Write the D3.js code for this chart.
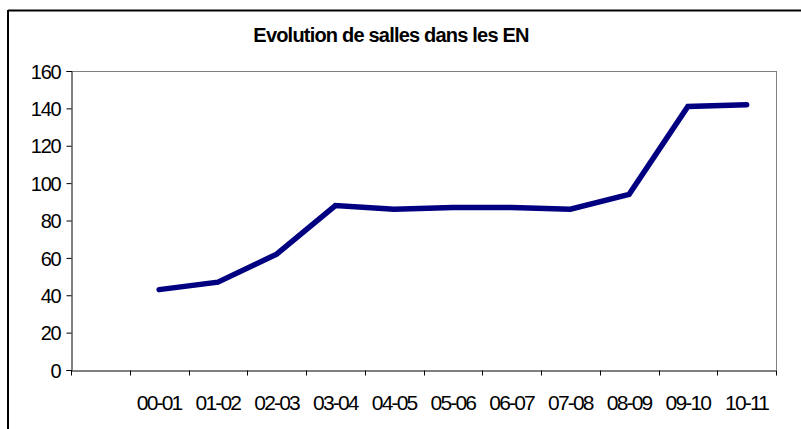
<!DOCTYPE html>
<html>
<head>
<meta charset="utf-8">
<script src="https://cdn.jsdelivr.net/npm/d3@7"></script>
<style>
  html, body { margin: 0; padding: 0; background: #fff; }
  svg { display: block; }
  text { font-family: "Liberation Sans", Arial, sans-serif; fill: #000; }
</style>
</head>
<body>
<svg id="chart" width="801" height="429"></svg>
<script>
const title = "Evolution de salles dans les EN";
const categories = ["", "00-01", "01-02", "02-03", "03-04", "04-05", "05-06", "06-07", "07-08", "08-09", "09-10", "10-11"];
const values = [null, 43, 47, 62, 88, 86, 87, 87, 86, 94, 141, 142];
const yTicks = [0, 20, 40, 60, 80, 100, 120, 140, 160];

const svg = d3.select("#chart");
const mLeft = 71, mRight = 776, mTop = 71, mBottom = 370;

// outer frame (top and left edges visible)
svg.append("line").attr("x1", 8).attr("x2", 801).attr("y1", 10.5).attr("y2", 10.5)
  .attr("stroke", "#000").attr("stroke-width", 2);
svg.append("line").attr("x1", 8).attr("x2", 8).attr("y1", 10).attr("y2", 429)
  .attr("stroke", "#000").attr("stroke-width", 2);

svg.append("text").attr("x", 391).attr("y", 41.5).attr("text-anchor", "middle")
  .style("font-size", "20px").style("font-weight", "bold").style("letter-spacing", "-0.8px")
  .text(title);

const x = d3.scaleBand().domain(categories.map((c, i) => i)).range([mLeft, mRight]);
const y = d3.scaleLinear().domain([0, 160]).range([mBottom, mTop]);

// plot border (gray top & right)
svg.append("line").attr("x1", mLeft).attr("x2", mRight).attr("y1", mTop + 0.5).attr("y2", mTop + 0.5)
  .attr("stroke", "#808080").attr("stroke-width", 1);
svg.append("line").attr("x1", mRight + 0.5).attr("x2", mRight + 0.5).attr("y1", mTop).attr("y2", mBottom)
  .attr("stroke", "#808080").attr("stroke-width", 1);

// y axis
const yAxis = d3.axisLeft(y).tickValues(yTicks).tickSize(5).tickPadding(6);
const gy = svg.append("g").attr("transform", `translate(${mLeft + 0.5},0)`).call(yAxis);
gy.select(".domain").attr("stroke", "#000");
gy.selectAll(".tick line").attr("stroke", "#000");
gy.selectAll("text").style("font-size", "20px").style("letter-spacing", "-1.2px")
  .attr("font-family", null).attr("dy", "0.36em");

// x axis
const xAxis = d3.axisBottom(x).tickFormat(i => categories[i]).tickSize(0).tickPadding(25);
const gx = svg.append("g").attr("transform", `translate(0,${mBottom + 0.5})`).call(xAxis);
gx.select(".domain").attr("stroke", "#000");
gx.selectAll("text").style("font-size", "21px").style("letter-spacing", "-1.8px").attr("font-family", null);
const boundaries = categories.map((c, i) => x(i)).concat([x.range()[1]]);
gx.selectAll(".bt").data(boundaries).enter().append("line")
  .attr("x1", d => Math.round(d) + 0.5).attr("x2", d => Math.round(d) + 0.5)
  .attr("y1", 0).attr("y2", 5).attr("stroke", "#000");

// line
const line = d3.line()
  .defined(d => d != null)
  .x((d, i) => x(i) + x.bandwidth() / 2)
  .y(d => y(d));
svg.append("path").datum(values).attr("d", line)
  .attr("fill", "none").attr("stroke", "#000080").attr("stroke-width", 5.5)
  .attr("stroke-linecap", "round").attr("stroke-linejoin", "miter");
</script>
</body>
</html>
